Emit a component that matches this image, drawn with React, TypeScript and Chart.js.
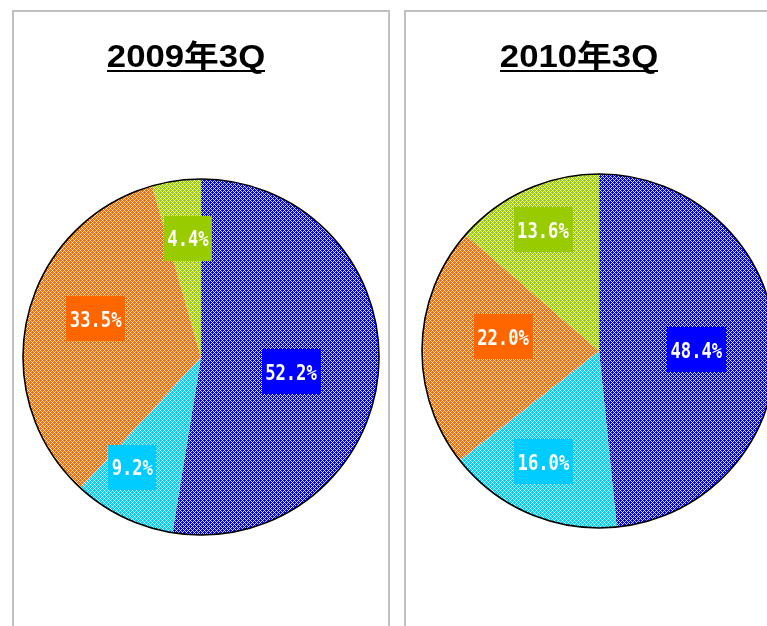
import React, { useEffect, useRef } from 'react';
import { Chart, registerables } from 'chart.js';

Chart.register(...registerables);

// ---- data ----
const categories = ['A', 'B', 'C', 'D'];
const values2009 = [52.2, 9.2, 33.5, 4.4];
const values2010 = [48.4, 16.0, 22.0, 13.6];
const title2009 = '2009年3Q';
const title2010 = '2010年3Q';

// ---- styles ----
const sliceColors = ['#0000FF', '#00CCFF', '#FF6600', '#99CC00'];
const labelRadius2009 = [0.512, 0.73, 0.63, 0.67];
const labelAngleAdj2009 = [4.6, 6, 6.7, 1.7];
const labelRadius2010 = [0.55, 0.7, 0.548, 0.756];
const labelAngleAdj2010 = [2.1, 3.6, 6.9, -0.3];

function makePattern(color: string): CanvasPattern | string {
  const c = document.createElement('canvas');
  c.width = 4;
  c.height = 4;
  const g = c.getContext('2d');
  if (!g) return color;
  g.fillStyle = color;
  g.fillRect(0, 0, 4, 4);
  g.fillStyle = 'rgba(255,255,255,0.88)';
  for (let y = 0; y < 4; y++) {
    for (let x = 0; x < 4; x++) {
      if ((x + y) % 4 === 0 || (x - y + 4) % 4 === 0) g.fillRect(x, y, 1, 1);
    }
  }
  const p = g.createPattern(c, 'repeat');
  return p ?? color;
}

type PieProps = {
  title: string;
  values: number[];
  padding: { left: number; right: number; top: number; bottom: number };
  titleX: number;
  titleBaseline: number;
  labelRadius: number[];
  labelAngleAdj: number[];
};

function PieChart(props: PieProps) {
  const ref = useRef<HTMLCanvasElement | null>(null);
  useEffect(() => {
    const canvas = ref.current;
    if (!canvas) return;
    const decor = {
      id: 'decor',
      afterDatasetsDraw(chart: any) {
        const ctx: CanvasRenderingContext2D = chart.ctx;
        const meta = chart.getDatasetMeta(0);
        const arcs = meta.data as any[];
        if (!arcs.length) return;
        const cx = arcs[0].x;
        const cy = arcs[0].y;
        const R = arcs[0].outerRadius;
        // outer outline
        ctx.save();
        ctx.beginPath();
        ctx.arc(cx, cy, R, 0, Math.PI * 2);
        ctx.lineWidth = 1.6;
        ctx.strokeStyle = '#000';
        ctx.stroke();
        ctx.restore();
        // labels
        const sx = 0.78;
        arcs.forEach((arc, i) => {
          const mid = (arc.startAngle + arc.endAngle) / 2 + (props.labelAngleAdj[i] * Math.PI) / 180;
          const r = R * props.labelRadius[i];
          const x = cx + Math.cos(mid) * r;
          const y = cy + Math.sin(mid) * r;
          const text = props.values[i].toFixed(1) + '%';
          ctx.save();
          ctx.font = 'bold 22px "DejaVu Sans Mono", monospace';
          const tw = ctx.measureText(text).width * sx;
          const bw = tw + 7;
          const bh = 45;
          ctx.fillStyle = sliceColors[i];
          ctx.fillRect(Math.round(x - bw / 2), Math.round(y - bh / 2), Math.round(bw), bh);
          ctx.translate(x, y + 8);
          ctx.scale(sx, 1);
          ctx.fillStyle = '#FFFFFF';
          ctx.textAlign = 'center';
          ctx.textBaseline = 'alphabetic';
          ctx.fillText(text, 0, 0);
          ctx.restore();
        });
        // title
        ctx.save();
        const tsx = 1.12;
        ctx.font = 'bold 31px "Liberation Sans", Arial, "Noto Sans CJK JP", sans-serif';
        ctx.fillStyle = '#000';
        const w = ctx.measureText(props.title).width * tsx;
        const x0 = props.titleX - w / 2;
        ctx.fillRect(Math.round(x0), props.titleBaseline + 3, Math.round(w), 2);
        ctx.translate(props.titleX, props.titleBaseline);
        ctx.scale(tsx, 1);
        ctx.textAlign = 'center';
        ctx.textBaseline = 'alphabetic';
        ctx.fillText(props.title, 0, 0);
        ctx.restore();
      },
    };
    const chart = new Chart(canvas, {
      type: 'pie',
      data: {
        labels: categories,
        datasets: [
          {
            data: props.values,
            backgroundColor: sliceColors.map(makePattern) as any,
            borderWidth: 0,
            hoverBorderWidth: 0,
            hoverOffset: 0,
          },
        ],
      },
      options: {
        responsive: false,
        animation: false,
        events: [],
        layout: { padding: props.padding },
        plugins: {
          legend: { display: false },
          tooltip: { enabled: false },
          title: { display: false },
        },
      },
      plugins: [decor],
    });
    return () => chart.destroy();
  }, []);
  return <canvas ref={ref} width={374} height={614} style={{ position: 'absolute', left: 0, top: 0, width: 374, height: 614 }} />;
}

function Panel(props: { left: number; children: React.ReactNode }) {
  return (
    <div
      style={{
        position: 'absolute',
        left: props.left,
        top: 10,
        width: 378,
        height: 700,
        border: '2px solid #c0c0c0',
        boxSizing: 'border-box',
        background: '#fff',
      }}
    >
      {props.children}
    </div>
  );
}

export default function App() {
  return (
    <div style={{ position: 'absolute', left: 0, top: 0, width: 767, height: 626, overflow: 'hidden', background: '#fff' }}>
      <Panel left={12}>
        <PieChart
          title={title2009}
          values={values2009}
          padding={{ left: 9, right: 9, top: 167, bottom: 91 }}
          titleX={172}
          titleBaseline={55}
          labelRadius={labelRadius2009}
          labelAngleAdj={labelAngleAdj2009}
        />
      </Panel>
      <Panel left={404}>
        <PieChart
          title={title2010}
          values={values2010}
          padding={{ left: 16, right: 4, top: 162, bottom: 98 }}
          titleX={173}
          titleBaseline={55}
          labelRadius={labelRadius2010}
          labelAngleAdj={labelAngleAdj2010}
        />
      </Panel>
    </div>
  );
}
